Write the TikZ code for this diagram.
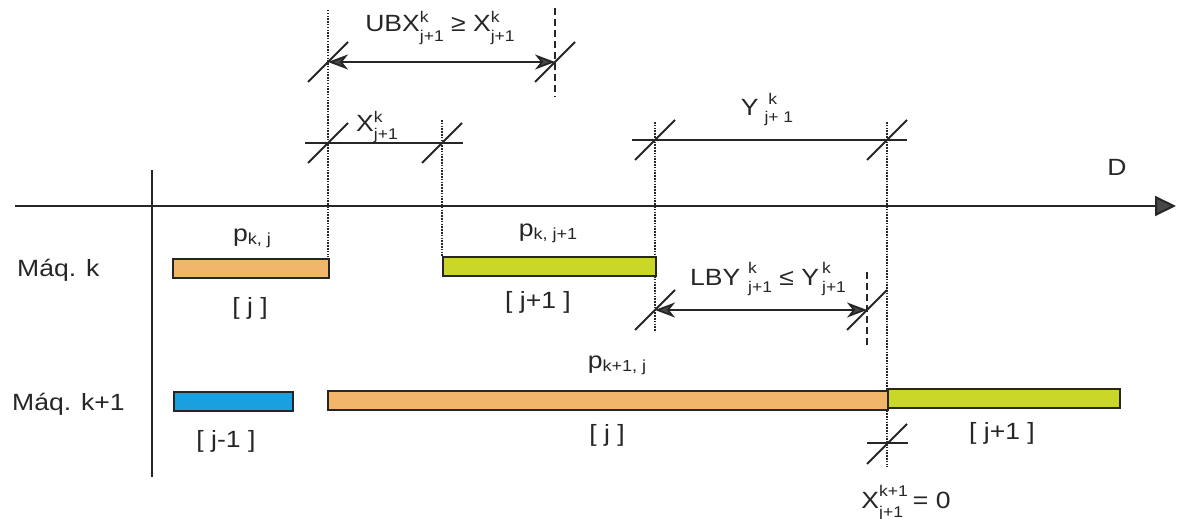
\documentclass[tikz,border=0pt]{standalone}
\usepackage{fontspec}
\setmainfont{Liberation Sans}[FakeStretch=1.13]
\usetikzlibrary{arrows.meta}
\definecolor{barorange}{RGB}{242,182,106}
\definecolor{bargreen}{RGB}{202,214,40}
\definecolor{barblue}{RGB}{26,160,222}
\definecolor{ink}{RGB}{38,38,38}
\newcommand\SmallTxt{\fontsize{15.5}{17}\selectfont}
\newcommand\SupSub[4]{%
  \setbox0\hbox{\SmallTxt #3}\setbox2\hbox{\SmallTxt #4}%
  \ifdim\wd0>\wd2
    \rlap{\raisebox{#2}{\box2}}\raisebox{#1}{\box0}%
  \else
    \rlap{\raisebox{#1}{\box0}}\raisebox{#2}{\box2}%
  \fi}
\newcommand\SubTxt[1]{\raisebox{-3pt}{\fontsize{16}{17}\selectfont #1}}
\begin{document}
\begin{tikzpicture}[x=1pt,y=-1pt,
  every node/.style={inner sep=0pt,text=ink},
  font=\fontsize{23.5}{27}\selectfont,
  axisline/.style={draw=ink,line width=2pt},
  barbox/.style={draw=ink,line width=1.9pt,minimum height=19pt,anchor=north west},
  guide/.style={draw=ink,line width=1.6pt,dash pattern=on 1.5pt off 1.3pt},
  dashguide/.style={draw=ink,line width=1.6pt,dash pattern=on 7pt off 4pt},
  dimline/.style={draw=ink,line width=1.8pt},
  dimarrow/.style={draw=ink,line width=1.8pt,
    {Stealth[length=20pt,width=15pt,inset=6pt,fill=ink!85]}-{Stealth[length=20pt,width=15pt,inset=6pt,fill=ink!85]}},
  tk/.pic={\draw[draw=ink,line width=1.8pt] (-20,20) -- (20,-20);}
]
\useasboundingbox (0,0) rectangle (1181,519);

% axes
\coordinate (axL) at (15,206);
\coordinate (axR) at (1176,206);
\coordinate (vT) at (152,170);
\coordinate (vB) at (152,477);
\draw[axisline,-{Triangle[length=21pt,width=20pt,fill=ink!85]}] (axL) -- (axR);
\draw[axisline] (vT) -- (vB);
\node[anchor=base] (D) at (1117,175) {D};

% guide lines
\coordinate (g1t) at (328,10);  \coordinate (g1b) at (328,257);
\coordinate (g2t) at (442,120); \coordinate (g2b) at (442,257);
\coordinate (g3t) at (655,122); \coordinate (g3b) at (655,332);
\coordinate (g4t) at (887,122); \coordinate (g4b) at (887,467);
\draw[guide] (g1t) -- (g1b);
\draw[guide] (g2t) -- (g2b);
\draw[guide] (g3t) -- (g3b);
\draw[guide] (g4t) -- (g4b);
\coordinate (d1t) at (555,8);   \coordinate (d1b) at (555,97);
\coordinate (d2t) at (867,272); \coordinate (d2b) at (867,347);
\draw[dashguide] (d1t) -- (d1b);
\draw[dashguide] (d2t) -- (d2b);

% machine labels
\node[anchor=base west] (mk) at (17,276) {Máq. k};
\node[anchor=base west] (mk1) at (12,410) {Máq. k+1};

% bars
\node[barbox,fill=barorange,minimum width=156pt] (bkj) at (172,258) {};
\node[barbox,fill=bargreen,minimum width=213pt] (bkj1) at (442,256) {};
\node[barbox,fill=barblue,minimum width=119pt] (bk1jm) at (173,391) {};
\node[barbox,fill=barorange,minimum width=560pt] (bk1j) at (327,390) {};
\node[barbox,fill=bargreen,minimum width=232pt] (bk1j1) at (887,388) {};

% bar labels
\node[anchor=base] (pkj) at (252,241) {p\SubTxt{k, j}};
\node[anchor=base] (pkj1) at (548,236) {p\SubTxt{k, j+1}};
\node[anchor=base] (pk1j) at (617,368) {p\SubTxt{k+1, j}};
\node (jtop) at (250,308) {[ j ]};
\node (j1top) at (538,302) {[ j+1 ]};
\node (jm1) at (226,441) {[ j-1 ]};
\node (jbot) at (607,435) {[ j ]};
\node (j1bot) at (1002,433) {[ j+1 ]};

% dimension: UBX
\coordinate (tU1) at (328,62);
\coordinate (tU2) at (555,62);
\draw[dimarrow] (tU1) -- (tU2);
\pic at (tU1) {tk};
\pic at (tU2) {tk};
\node[anchor=base] (ubx) at (440,32) {UBX\SupSub{9pt}{-10pt}{k}{j+1} ≥ X\SupSub{9pt}{-10pt}{k}{j+1}};

% dimension: X
\coordinate (tX1) at (328,143);
\coordinate (tX2) at (442,143);
\coordinate (xL) at (305,143);
\coordinate (xR) at (463,143);
\draw[dimline] (xL) -- (xR);
\pic at (tX1) {tk};
\pic at (tX2) {tk};
\node[anchor=base] (xlab) at (377,131) {X\SupSub{9pt}{-9pt}{k}{j+1}};

% dimension: Y
\coordinate (tY1) at (655,140);
\coordinate (tY2) at (887,140);
\coordinate (yL) at (632,140);
\coordinate (yR) at (907,140);
\draw[dimline] (yL) -- (yR);
\pic at (tY1) {tk};
\pic at (tY2) {tk};
\node[anchor=base] (ylab) at (767,115) {Y\hspace{6pt}\SupSub{11pt}{-7pt}{\hspace{4pt}k}{j+ 1}};

% dimension: LBY
\coordinate (tL1) at (655,310);
\coordinate (tL2) at (867,310);
\draw[dimarrow] (tL1) -- (tL2);
\pic at (tL1) {tk};
\pic at (tL2) {tk};
\node[anchor=base] (lby) at (768,285) {LBY\hspace{8pt}\SupSub{12pt}{-7pt}{k}{j+1} ≤ Y\hspace{3pt}\SupSub{12pt}{-7pt}{k}{j+1}};

% bottom tick
\coordinate (tB) at (887,444);
\coordinate (bL) at (867,443);
\coordinate (bR) at (908,443);
\draw[dimline] (bL) -- (bR);
\pic at (tB) {tk};
\node[anchor=base] (x0) at (906,508) {X\SupSub{12pt}{-9pt}{k+1}{j+1}\hspace{5pt}= 0};
\end{tikzpicture}
\end{document}
